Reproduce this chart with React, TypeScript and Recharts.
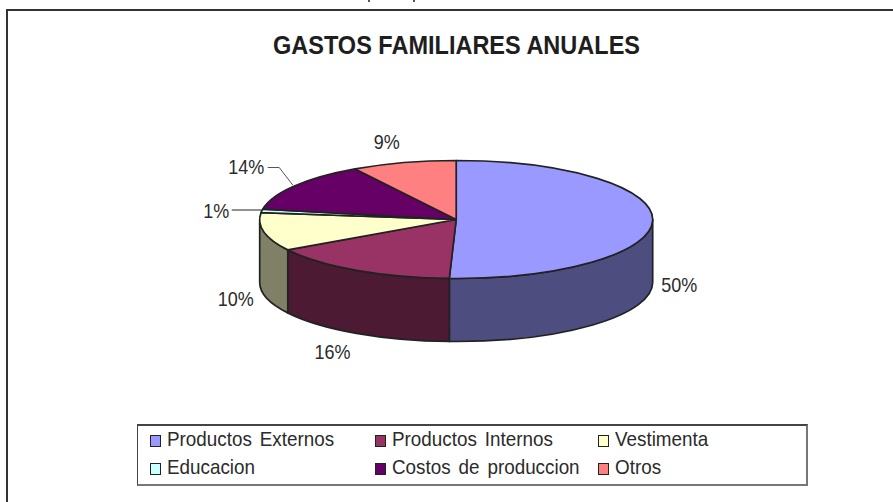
import React from "react";
import { PieChart, Pie, Legend } from "recharts";

const categories = ["Productos Externos", "Productos Internos", "Vestimenta", "Educacion", "Costos de produccion", "Otros"];
const values = [50.56, 15.83, 10.47, 0.94, 13.6, 8.6];
const percentLabels = ["50%", "16%", "10%", "1%", "14%", "9%"];
const topColors = ["#9999ff", "#993366", "#ffffcc", "#ccffff", "#660066", "#ff8080"];
const sideColors = ["#4d4d80", "#4d1a33", "#808066", "#668080", "#330033", "#804040"];

const tableData = categories.map((name, i) => ({
  name,
  value: values[i],
  fill: topColors[i],
  side: sideColors[i],
  text: percentLabels[i],
}));

const CX = 456.2;
const CY = 219.5;
const RX = 196.5;
const RY = 59;
const DEPTH = 63;
const INK = "#222222";
const TEXT_INK = "#2b2b2b";
const FONT = "'Liberation Sans', Arial, sans-serif";
const LEGEND_SCALE = 0.897;

// label centres relative to the pie centre
const labelOffsets = [[223, 64.5], [-123.7, 132], [-220.5, 78.5], [-240, -9.5], [-210, -53], [-69.5, -78]];

const rim = (deg: number) => {
  const r = (deg * Math.PI) / 180;
  return [CX + RX * Math.cos(r), CY - RY * Math.sin(r)];
};

const EllipseSector = (props: any) => {
  const { startAngle, endAngle, fill, side } = props;
  const [x0, y0] = rim(startAngle);
  const [x1, y1] = rim(endAngle);
  const large = Math.abs(startAngle - endAngle) > 180 ? 1 : 0;
  const top = `M${CX},${CY}L${x0},${y0}A${RX},${RY} 0 ${large} 1 ${x1},${y1}Z`;
  // front wall: the part of the rim lying on the lower half of the ellipse
  const hi = Math.min(startAngle, 0);
  const lo = Math.max(endAngle, -180);
  let wall = null;
  if (hi > lo) {
    const [a0, b0] = rim(hi);
    const [a1, b1] = rim(lo);
    const d = `M${a0},${b0}A${RX},${RY} 0 0 1 ${a1},${b1}L${a1},${b1 + DEPTH}A${RX},${RY} 0 0 0 ${a0},${b0 + DEPTH}Z`;
    wall = <path d={d} fill={side} stroke={INK} strokeWidth={1.7} strokeLinejoin="round" />;
  }
  return (
    <g>
      {wall}
      <path d={top} fill={fill} stroke={INK} strokeWidth={1.7} strokeLinejoin="round" />
    </g>
  );
};

const PercentLabel = (props: any) => {
  const i = props.index;
  const x = CX + labelOffsets[i][0];
  const y = CY + labelOffsets[i][1];
  const text = percentLabels[i];
  return (
    <g>
      {i === 3 && <polyline points={`${x + 15.5},${y} ${x + 45.5},${y}`} fill="none" stroke="#222" strokeWidth={1} />}
      {i === 4 && (
        <polyline points={`${x + 21.5},${y + 1} ${x + 33},${y + 1} ${x + 46.5},${y + 18.5}`} fill="none" stroke="#555" strokeWidth={1} />
      )}
      <text
        x={x}
        y={y + 7.5}
        textAnchor="middle"
        fontFamily={FONT}
        fontSize={21}
        fill={TEXT_INK}
        textLength={text.length === 3 ? 36 : 26}
        lengthAdjust="spacingAndGlyphs"
      >
        {text}
      </text>
    </g>
  );
};

const LegendBox = ({ payload }: any) => (
  <div
    style={{
      position: "relative",
      boxSizing: "border-box",
      width: 671,
      height: 62,
      borderStyle: "solid",
      borderColor: "#444",
      borderWidth: "2px 2px 2px 1px",
      borderBottomColor: "#777",
      borderRightColor: "#777",
      fontFamily: FONT,
      fontSize: 21,
      color: TEXT_INK,
      background: "#fff",
    }}
  >
    <div
      style={{
        position: "absolute",
        left: 12,
        top: -1,
        display: "grid",
        gridTemplateColumns: "225px 222.5px 120px",
        gridTemplateRows: "28px 28px",
      }}
    >
      {(payload || []).map((item: any) => (
        <div key={item.value} style={{ position: "relative", lineHeight: "28px", whiteSpace: "nowrap" }}>
          <span
            style={{
              position: "absolute",
              left: 0,
              top: 9.6,
              boxSizing: "border-box",
              width: 11,
              height: 12.5,
              border: "1.5px solid #222",
              background: item.color,
            }}
          />
          <span
            style={{
              position: "absolute",
              left: 17,
              top: 0,
              wordSpacing: 3,
              transform: `scaleX(${LEGEND_SCALE})`,
              transformOrigin: "left center",
            }}
          >
            {item.value}
          </span>
        </div>
      ))}
    </div>
  </div>
);

export default function App() {
  return (
    <div style={{ position: "absolute", left: 0, top: 0, width: 893, height: 502, background: "#fff", overflow: "hidden" }}>
      <div style={{ position: "absolute", left: 6, top: 9, width: 900, height: 520, border: "2px solid #333", borderRightWidth: 0 }} />
      <div style={{ position: "absolute", left: 368, top: 0, width: 2, height: 2, background: "#555" }} />
      <div style={{ position: "absolute", left: 413, top: 0, width: 2, height: 2, background: "#555" }} />
      <PieChart width={893} height={502} margin={{ top: 0, right: 0, bottom: 0, left: 0 }} style={{ position: "absolute", left: 0, top: 0 }}>
        <text
          x={273}
          y={54}
          fontFamily={FONT}
          fontWeight="bold"
          fontSize={25}
          fill="#1e1e1e"
          textLength={367}
          lengthAdjust="spacingAndGlyphs"
        >
          GASTOS FAMILIARES ANUALES
        </text>
        <Pie
          data={tableData}
          dataKey="value"
          nameKey="name"
          cx={CX}
          cy={CY}
          innerRadius={0}
          outerRadius={RX}
          startAngle={90}
          endAngle={-270}
          paddingAngle={0}
          stroke="none"
          isAnimationActive={false}
          shape={EllipseSector}
          label={PercentLabel}
          labelLine={false}
        />
        <Legend
          content={LegendBox}
          layout="horizontal"
          itemSorter={null}
          wrapperStyle={{ position: "absolute", left: 137, top: 424, width: 671, height: 62 }}
        />
      </PieChart>
    </div>
  );
}
